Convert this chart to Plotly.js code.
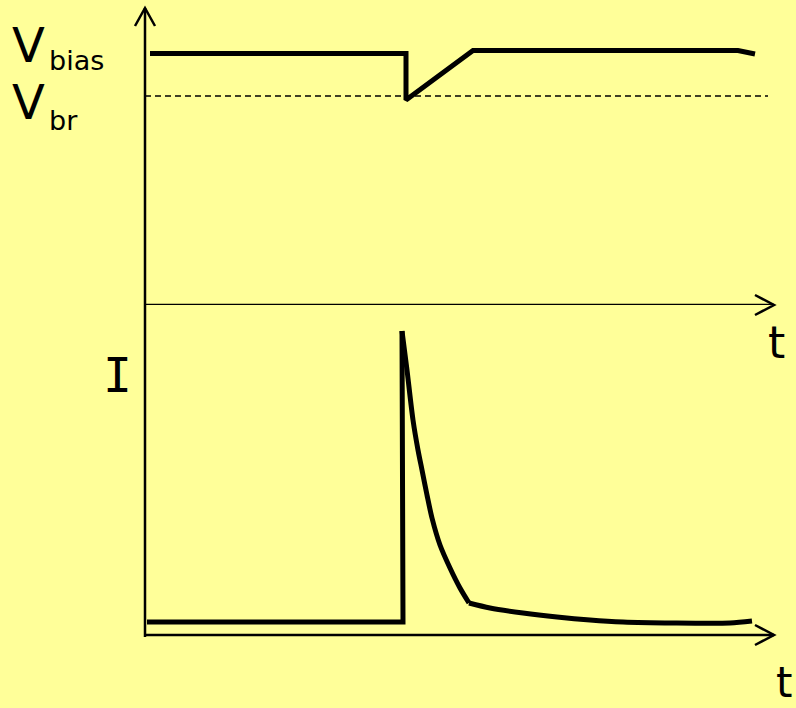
<!DOCTYPE html>
<html><head><meta charset="utf-8">
<script src="https://cdn.plot.ly/plotly-3.0.1.min.js"></script>
<style>html,body{margin:0;padding:0;background:#FFFF99;}</style>
</head><body><div id="chart" style="width:796px;height:708px;"></div>
<script>
// Bias voltage vs time (top panel)
const tV = [0.05, 2.61, 2.61, 3.28, 5.93, 6.10];
const V  = [2.515, 2.515, 2.05, 2.545, 2.545, 2.51];
// Breakdown voltage (dashed)
const tBr = [0.0, 6.23];
const Vbr = [2.09, 2.09];
// Current vs time (bottom panel): step, fast decay, slow tail
const tStep  = [0.02, 2.58, 2.57];
const IStep  = [0.13, 0.13, 3.04];
const tDecay = [2.57, 2.62, 2.68, 2.73, 2.77, 2.82, 2.87, 2.95, 3.05, 3.15, 3.24];
const IDecay = [3.04, 2.65, 2.15, 1.85, 1.65, 1.40, 1.17, 0.90, 0.67, 0.47, 0.32];
const tTail  = [3.24, 3.45, 3.78, 4.12, 4.45, 4.78, 5.28, 5.85, 6.07];
const ITail  = [0.32, 0.27, 0.22, 0.18, 0.15, 0.13, 0.12, 0.12, 0.14];
// Labels
const labelV = 'V';
const subBias = 'bias';
const subBr = 'br';
const labelI = 'I';
const labelT = 't';

const W = 796, H = 708;
const px = x => x / W, py = y => 1 - y / H;
function chevron(tipX, tipY, dir) {
  let a, b;
  if (dir === 'up') { a = [tipX - 10, tipY + 18]; b = [tipX + 10, tipY + 18]; }
  else { a = [tipX - 19, tipY - 10]; b = [tipX - 19, tipY + 10]; }
  return {type: 'path', xref: 'paper', yref: 'paper',
    path: `M${px(a[0])},${py(a[1])} L${px(tipX)},${py(tipY)} L${px(b[0])},${py(b[1])}`,
    line: {color: 'black', width: 2.5}};
}

const thick = {color: 'black', width: 5};
const traces = [
  {x: tV, y: V, xaxis: 'x', yaxis: 'y', mode: 'lines', line: thick, hoverinfo: 'skip'},
  {x: tBr, y: Vbr, xaxis: 'x', yaxis: 'y', mode: 'lines', line: {color: 'black', width: 1.5, dash: '6px,4px'}, hoverinfo: 'skip'},
  {x: tStep, y: IStep, xaxis: 'x', yaxis: 'y2', mode: 'lines', line: thick, hoverinfo: 'skip'},
  {x: tDecay, y: IDecay, xaxis: 'x', yaxis: 'y2', mode: 'lines', line: Object.assign({shape: 'spline', smoothing: 0.8}, thick), hoverinfo: 'skip'},
  {x: tTail, y: ITail, xaxis: 'x', yaxis: 'y2', mode: 'lines', line: Object.assign({shape: 'spline', smoothing: 0.8}, thick), hoverinfo: 'skip'}
];

const font = 'DejaVu Sans';
function lab(text, x, y, xa, size, fam) {
  return {xref: 'paper', yref: 'paper', x: px(x), y: py(y), xanchor: xa, yanchor: 'middle',
    showarrow: false, borderpad: 0, text: text, font: {family: fam || font, size: size, color: 'black'}};
}
const layout = {
  width: W, height: H,
  margin: {l: 0, r: 0, t: 0, b: 0},
  paper_bgcolor: '#FFFF99', plot_bgcolor: '#FFFF99',
  showlegend: false,
  xaxis: {range: [-1.45, 6.51], visible: false, fixedrange: true},
  yaxis: {domain: [1 - 305 / H, 1], range: [0, 3.05], visible: false, fixedrange: true},
  yaxis2: {domain: [0, 1 - 305 / H], range: [-0.73, 3.30], visible: false, fixedrange: true},
  shapes: [
    {type: 'line', xref: 'x', yref: 'paper', x0: 0, x1: 0, y0: py(637), y1: py(8), line: {color: 'black', width: 2.5}},
    {type: 'line', xref: 'x', yref: 'y', x0: 0, x1: 6.29, y0: 0, y1: 0, line: {color: 'black', width: 2.5}},
    {type: 'line', xref: 'x', yref: 'y2', x0: 0, x1: 6.29, y0: 0, y1: 0, line: {color: 'black', width: 2.5}},
    chevron(145, 8, 'up'),
    chevron(774, 305, 'right'),
    chevron(774, 635, 'right')
  ],
  annotations: [
    lab(labelV, 46, 45.5, 'right', 48),
    lab(subBias, 48, 60.5, 'left', 27),
    lab(labelV, 46, 101.5, 'right', 48),
    lab(subBr, 48, 120.5, 'left', 27),
    lab(labelI, 117, 375, 'center', 48, 'DejaVu Sans Mono'),
    lab(labelT, 776, 342, 'center', 44),
    lab(labelT, 784, 682, 'center', 42)
  ]
};
Plotly.newPlot('chart', traces, layout, {displayModeBar: false, staticPlot: true});
</script></body></html>
